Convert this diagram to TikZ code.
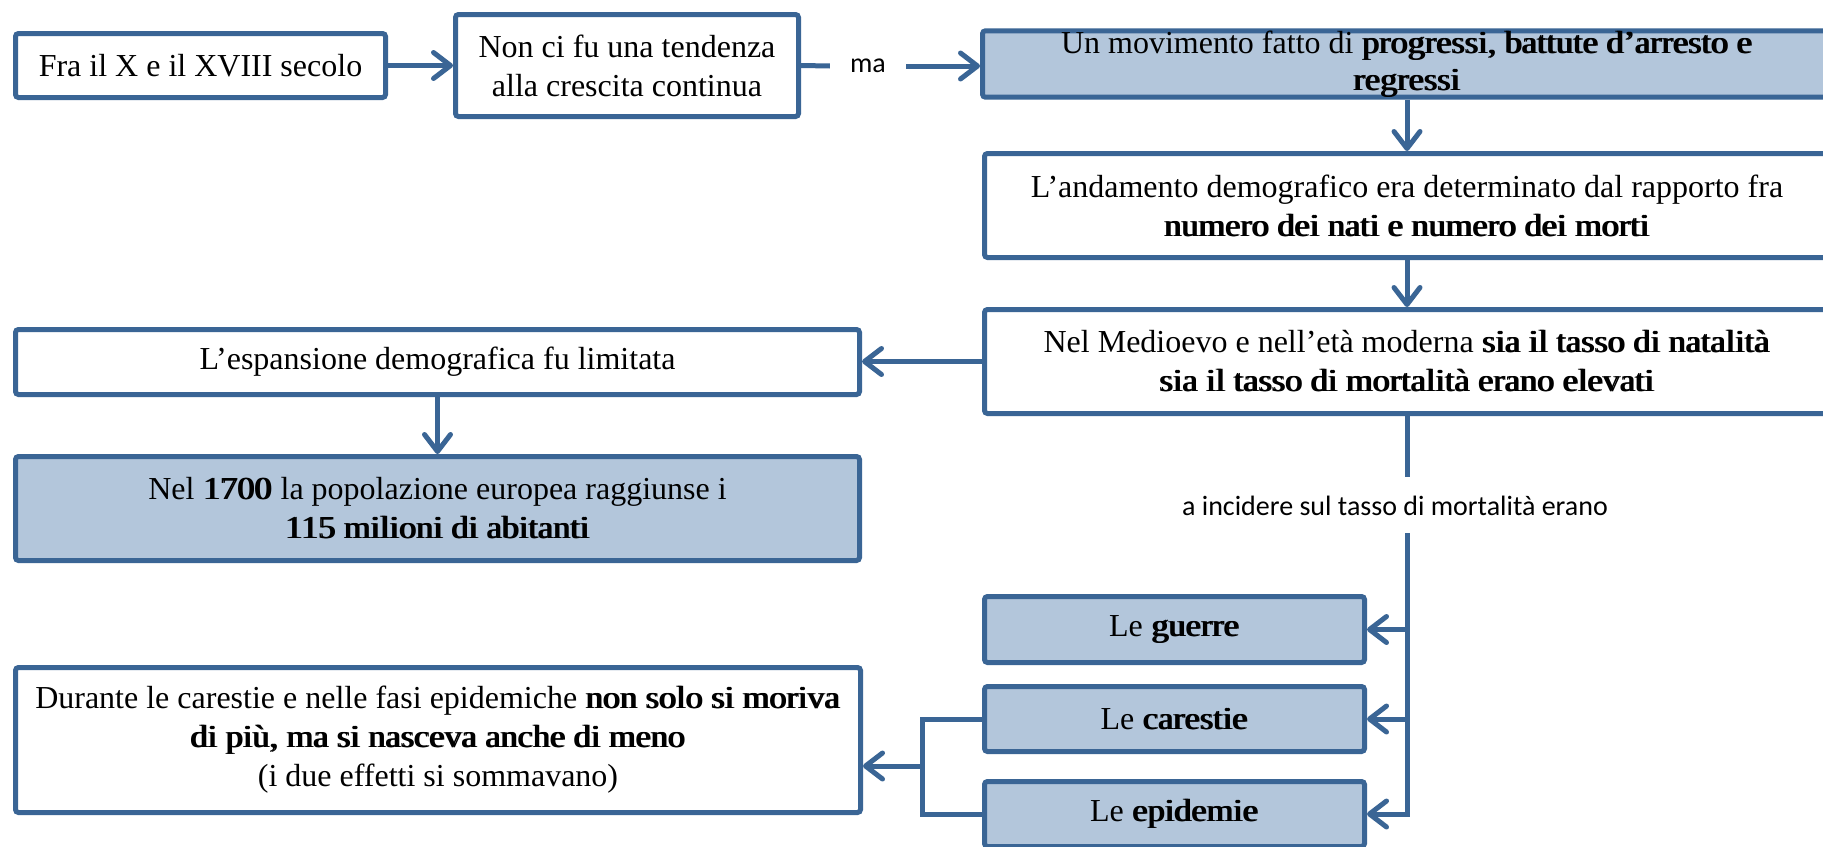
\documentclass[tikz,border=0pt]{standalone}
\usepackage{fontspec}
\usepackage{graphicx}
\setmainfont{Liberation Serif}
\usetikzlibrary{arrows.meta}
\definecolor{bord}{HTML}{3A6595}
\definecolor{fillb}{HTML}{B3C6DB}
\newcommand\bld[1]{\scalebox{1.07}[1]{\rlap{#1}\kern1.5pt#1}}
\begin{document}
\begin{tikzpicture}[x=1pt,y=-1pt,
  box/.style={draw=bord, line width=5pt, rounded corners=3pt, align=center, inner sep=0pt,
              font=\fontsize{32}{39}\selectfont},
  wbox/.style={box, fill=white},
  bbox/.style={box, fill=fillb},
  conn/.style={draw=bord, line width=5pt},
  arr/.style={conn, -{Straight Barb[length=17pt, width=26pt, round]}},
  lab/.style={font=\fontspec{Carlito}\fontsize{28}{30}\selectfont, inner sep=0pt}]
\useasboundingbox (0,0) rectangle (1823,846);
\clip (0,0) rectangle (1823,846);
\fill[white] (0,0) rectangle (1823,846);

\node[wbox, minimum width=370pt, minimum height=64pt] (a) at (200.5,65.5) {Fra il X e il XVIII secolo};
\node[wbox, minimum width=343pt, minimum height=102pt] (b) at (627,65.5) {Non ci fu una tendenza\\alla crescita continua};
\node[bbox, minimum width=849pt, minimum height=65pt, font=\fontsize{32}{37}\selectfont] (c) at (1407,64) {Un movimento fatto di \bld{progressi, battute d’arresto e}\\\bld{regressi}};
\node[wbox, minimum width=845pt, minimum height=104pt] (d) at (1407,205.5) {L’andamento demografico era determinato dal rapporto fra\\\bld{numero dei nati e numero dei morti}};
\node[wbox, minimum width=845pt, minimum height=104pt] (e) at (1407,361.5) {Nel Medioevo e nell’età moderna \bld{sia il tasso di natalità}\\\bld{sia il tasso di mortalità erano elevati}};
\node[wbox, minimum width=844pt, minimum height=65pt] (f) at (437.5,362) {L’espansione demografica fu limitata};
\node[bbox, minimum width=844pt, minimum height=104pt] (g) at (437.5,508.5) {Nel \bld{1700} la popolazione europea raggiunse i\\\bld{115 milioni di abitanti}};
\node[wbox, minimum width=845pt, minimum height=145pt] (dur) at (438,740) {Durante le carestie e nelle fasi epidemiche \bld{non solo si moriva}\\\bld{di più, ma si nasceva anche di meno}\\(i due effetti si sommavano)};
\node[bbox, minimum width=380pt, minimum height=66pt] (guerre) at (1174.5,629.5) {Le \bld{guerre}};
\node[bbox, minimum width=380pt, minimum height=65pt] (car) at (1174.5,719) {Le \bld{carestie}};
\node[bbox, minimum width=380pt, minimum height=65pt] (epid) at (1174.5,814) {Le \bld{epidemie}};

\node[lab, inner xsep=20pt] (ma) at (868,66) {ma};
\node[lab] (inc) at (1395,506) {a incidere sul tasso di mortalità erano};

\draw[arr] (a.east) -- (b.west);
\draw[conn] (b.east) -- (ma.west);
\draw[arr] (ma.east) -- (ma.east -| c.west);
\draw[arr] (c.south) -- (d.north);
\draw[arr] (d.south) -- (e.north);
\draw[arr] (e.west) -- (e.west -| f.east);
\draw[arr] (f.south) -- (g.north);

\coordinate (t1) at (1407,477);
\coordinate (t2) at (1407,533);
\draw[conn] (e.south) -- (t1);
\draw[arr] (t2) -- (t2 |- epid.east) -- (epid.east);
\draw[arr] (t2 |- guerre.east) -- (guerre.east);
\draw[arr] (t2 |- car.east) -- (car.east);

\coordinate (br) at (922,766);
\draw[conn] (car.west) -- (car.west -| br) -- (epid.west -| br) -- (epid.west);
\draw[arr] (br) -- (br -| dur.east);
\end{tikzpicture}
\end{document}
